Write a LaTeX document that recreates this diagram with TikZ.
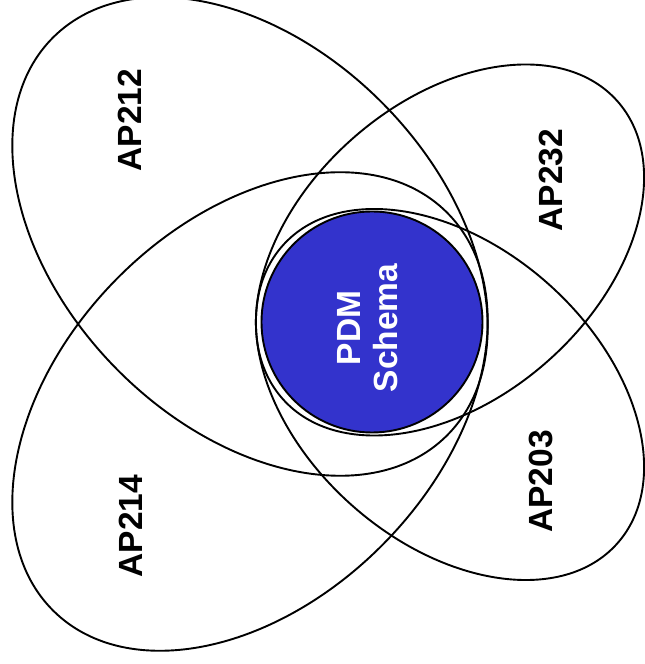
\documentclass[tikz,border=0pt]{standalone}
\usepackage{fontspec}
\setmainfont{Liberation Sans}
\definecolor{pdmblue}{RGB}{51,51,204}
\begin{document}
\begin{tikzpicture}[x=1pt,y=1pt,
  petal/.style={draw=black,line width=1.9pt},
  aplabel/.style={rotate=90,inner sep=0pt,font=\fontsize{33.5}{37}\selectfont\bfseries}]
\useasboundingbox (0,0) rectangle (645,664);
\fill[white] (0,0) rectangle (645,664);
% four overlapping ellipses
\draw[petal,shift={(250,427.5)},rotate=-45.5] (0,0) ellipse [x radius=280,y radius=188];
\draw[petal,shift={(250,252.5)},rotate=45.5] (0,0) ellipse [x radius=280,y radius=188];
\draw[petal,shift={(450,414)},rotate=41.7] (0,0) ellipse [x radius=224,y radius=148];
\draw[petal,shift={(450,269.5)},rotate=-41.7] (0,0) ellipse [x radius=224,y radius=148];
% central schema
\node[circle,draw=black,line width=1.9pt,fill=pdmblue,minimum size=221pt,inner sep=0pt] (pdm) at (372,342) {};
\node[aplabel,text=white,align=center] (pdmtext) at (368,336) {PDM\\Schema};
\node[aplabel] (ap212) at (130,544) {AP212};
\node[aplabel] (ap232) at (550.5,484) {AP232};
\node[aplabel] (ap203) at (541,182.5) {AP203};
\node[aplabel] (ap214) at (131,138) {AP214};
\end{tikzpicture}
\end{document}
